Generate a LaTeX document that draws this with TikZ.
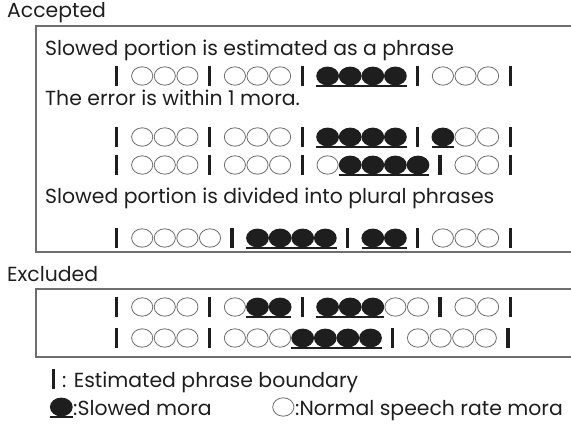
\documentclass[tikz,border=0pt]{standalone}
\usepackage{fontspec}
\setmainfont{Poppins}
\usepackage{xcolor}
\usetikzlibrary{positioning}
\definecolor{inkblack}{HTML}{1E1E1E}
\definecolor{rimgrey}{HTML}{6E6E6E}
\tikzset{
  heading/.style={anchor=base west,inner sep=0pt,font=\fontsize{20.4}{24}\selectfont,text=inkblack},
  caption/.style={anchor=base west,inner sep=0pt,font=\fontsize{20.4}{24}\selectfont,text=inkblack},
  panel/.style={draw=rimgrey,line width=1.3pt},
  boundbar/.style={fill=inkblack},
  normalmora/.style={draw=rimgrey,line width=0.8pt,fill=white},
  slowedmora/.style={fill=inkblack},
  slowline/.style={draw=inkblack,line width=1.8pt}
}
% single marks, x = left edge of the cell, y = middle of the row
\newcommand\boundmark[2]{\fill[boundbar] (#1-1.6,#2-10) rectangle ++(3.3,20);}
\newcommand\normmark[2]{\draw[normalmora] (#1+11.3,#2) ellipse[x radius=10.6pt,y radius=9.2pt];}
\newcommand\slowmark[2]{%
  \fill[slowedmora] (#1+11.3,#2) ellipse[x radius=11.4pt,y radius=9.4pt];
  \draw[slowline] (#1,#2+9.8) -- ++(22.6,0);}
\def\tokB{B}\def\tokO{o}
% one row of moras: #1 = y, #2 = B / o / f list
\newcommand\morarow[2]{%
  \xdef\curx{106}%
  \foreach \tok in {#2}{%
    \ifx\tok\tokB
      \boundmark{\curx+10.7}{#1}
      \pgfmathsetmacro\nx{\curx+24.9}\xdef\curx{\nx}%
    \else
      \ifx\tok\tokO \normmark{\curx}{#1}\else \slowmark{\curx}{#1}\fi
      \pgfmathsetmacro\nx{\curx+22.6}\xdef\curx{\nx}%
    \fi}}

\begin{document}
\begin{tikzpicture}[x=1pt,y=-1pt]
  \useasboundingbox (0,0) rectangle (571,425);
  % accepted cases
  \node[heading] (acc) at (7,18) {Accepted};
  \draw[panel] (36,26) rectangle (580,252);
  \node[caption] (onephrase) at (45,56) {Slowed portion is estimated as a phrase};
  \morarow{76}{B,o,o,o,B,o,o,o,B,f,f,f,f,B,o,o,o,B}
  \node[caption] (onemora) at (45,106) {The error is within 1 mora.};
  \morarow{137}{B,o,o,o,B,o,o,o,B,f,f,f,f,B,f,o,o,B}
  \morarow{165}{B,o,o,o,B,o,o,o,B,o,f,f,f,f,B,o,o,B}
  \node[caption] (plural) at (45,204) {Slowed portion is divided into plural phrases};
  \morarow{238}{B,o,o,o,o,B,f,f,f,f,B,f,f,B,o,o,o,B}
  % excluded cases
  \node[heading] (exc) at (7,281) {Excluded};
  \draw[panel] (36,289) rectangle (580,357);
  \morarow{307}{B,o,o,o,B,o,f,f,B,f,f,f,o,o,B,o,o,B}
  \morarow{338}{B,o,o,o,B,o,o,o,f,f,f,f,B,o,o,o,o,B}
  % legend
  \boundmark{53.3}{379}
  \node[caption] (lgbound) at (62,387) {: Estimated phrase boundary};
  \slowmark{50}{407}
  \node[caption] (lgslow) at (73,415) {:Slowed mora};
  \normmark{272}{407}
  \node[caption] (lgnorm) at (295,415) {:Normal speech rate mora};
\end{tikzpicture}
\end{document}
